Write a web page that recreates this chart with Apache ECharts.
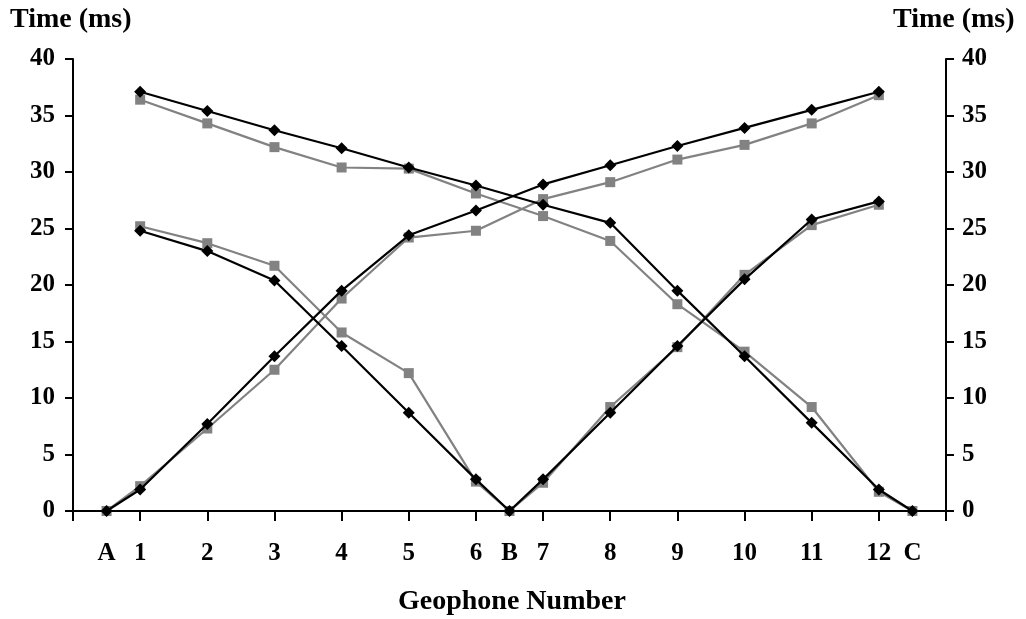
<!DOCTYPE html>
<html>
<head>
<meta charset="utf-8">
<script src="https://cdn.jsdelivr.net/npm/echarts@6/dist/echarts.min.js"></script>
<style>
  html, body { margin: 0; padding: 0; background: #ffffff; }
  #chart { width: 1026px; height: 619px; }
</style>
</head>
<body>
<div id="chart"></div>
<script>
// Stations along the spread: shot points A, B, C and geophones 1-12
const stationLabels = ['A', '1', '2', '3', '4', '5', '6', 'B', '7', '8', '9', '10', '11', '12', 'C'];
// Station positions along the line (geophone spacing = 1, shots at half spacing)
const stationPos = [0.5, 1, 2, 3, 4, 5, 6, 6.5, 7, 8, 9, 10, 11, 12, 12.5];
const shotLabels = ['A', 'B', 'C'];

// First-arrival times (ms), black diamonds
const blackShotA = [0, 1.9, 7.7, 13.7, 19.5, 24.4, 26.6, null, 28.9, 30.6, 32.3, 33.9, 35.5, 37.1, null];
const blackShotB = [null, 24.8, 23.0, 20.4, 14.6, 8.7, 2.8, 0, 2.8, 8.7, 14.6, 20.5, 25.8, 27.4, null];
const blackShotC = [null, 37.1, 35.4, 33.7, 32.1, 30.4, 28.8, null, 27.1, 25.5, 19.5, 13.7, 7.8, 1.9, 0];

// First-arrival times (ms), grey squares
const greyShotA = [0, 2.2, 7.3, 12.5, 18.8, 24.2, 24.8, null, 27.6, 29.1, 31.1, 32.4, 34.3, 36.8, null];
const greyShotB = [null, 25.2, 23.7, 21.7, 15.8, 12.2, 2.6, 0, 2.5, 9.2, 14.5, 20.9, 25.3, 27.1, null];
const greyShotC = [null, 36.4, 34.3, 32.2, 30.4, 30.3, 28.1, null, 26.1, 23.9, 18.3, 14.1, 9.2, 1.7, 0];

// Y axis range
const timeMin = 0, timeMax = 40, timeStep = 5;
const axisTitle = 'Time (ms)';
const xTitle = 'Geophone Number';

const FONT = '"Liberation Serif", "Times New Roman", serif';

function pairs(values) {
  const out = [];
  values.forEach(function (v, i) {
    if (v !== null) out.push([stationPos[i], v]);
  });
  return out;
}

function labelFor(value) {
  const i = stationPos.indexOf(value);
  return i >= 0 ? stationLabels[i] : '';
}

const greyStyle = {
  type: 'line',
  symbol: 'rect',
  symbolSize: 10,
  lineStyle: { color: '#828282', width: 2.2 },
  itemStyle: { color: '#828282' },
  z: 2,
  animation: false
};
const blackStyle = {
  type: 'line',
  symbol: 'diamond',
  symbolSize: 12,
  lineStyle: { color: '#000000', width: 2.2 },
  itemStyle: { color: '#000000' },
  z: 3,
  animation: false
};

const axisFont = { fontFamily: FONT, fontWeight: 'bold', fontSize: 25, color: '#000' };
const titleFont = { fontFamily: FONT, fontWeight: 'bold', fontSize: 28, fill: '#000' };

function yAxisDef(pos, margin) {
  return {
    type: 'value', min: timeMin, max: timeMax, interval: timeStep, position: pos,
    axisLine: { show: true, onZero: false, lineStyle: { color: '#000', width: 2 } },
    axisTick: { show: true, inside: false, length: 8, lineStyle: { color: '#000', width: 2 } },
    splitLine: { show: false },
    axisLabel: Object.assign({ margin: margin }, axisFont)
  };
}

const chart = echarts.init(document.getElementById('chart'), null, { renderer: 'canvas' });
chart.setOption({
  backgroundColor: '#ffffff',
  animation: false,
  grid: { left: 73, right: 80, top: 59, bottom: 108 },
  xAxis: [
    {
      // geophone ticks and numbers
      type: 'value', min: 0, max: 13, interval: 1,
      position: 'bottom',
      axisLine: { show: true, onZero: false, lineStyle: { color: '#000', width: 2 } },
      axisTick: { show: true, inside: false, length: 10, lineStyle: { color: '#000', width: 2 } },
      splitLine: { show: false },
      axisLabel: Object.assign({ margin: 30, formatter: function (v) {
        const s = labelFor(v); return shotLabels.indexOf(s) >= 0 ? '' : s;
      } }, axisFont)
    },
    {
      // shot point letters (no ticks)
      type: 'value', min: 0, max: 13, interval: 0.5,
      position: 'bottom',
      axisLine: { show: false, onZero: false },
      axisTick: { show: false },
      splitLine: { show: false },
      axisLabel: Object.assign({ margin: 30, formatter: function (v) {
        const s = labelFor(v); return shotLabels.indexOf(s) >= 0 ? s : '';
      } }, axisFont)
    }
  ],
  yAxis: [yAxisDef('left', 18), yAxisDef('right', 16)],
  graphic: [
    { type: 'text', left: 10, top: 6, style: Object.assign({ text: axisTitle }, titleFont) },
    { type: 'text', left: 893, top: 6, style: Object.assign({ text: axisTitle }, titleFont) },
    { type: 'text', left: 398, top: 588, style: Object.assign({ text: xTitle }, titleFont) }
  ],
  series: [
    Object.assign({ name: 'Shot A (grey)', data: pairs(greyShotA) }, greyStyle),
    Object.assign({ name: 'Shot B (grey)', data: pairs(greyShotB) }, greyStyle),
    Object.assign({ name: 'Shot C (grey)', data: pairs(greyShotC) }, greyStyle),
    Object.assign({ name: 'Shot A', data: pairs(blackShotA) }, blackStyle),
    Object.assign({ name: 'Shot B', data: pairs(blackShotB) }, blackStyle),
    Object.assign({ name: 'Shot C', data: pairs(blackShotC) }, blackStyle)
  ]
});
</script>
</body>
</html>
